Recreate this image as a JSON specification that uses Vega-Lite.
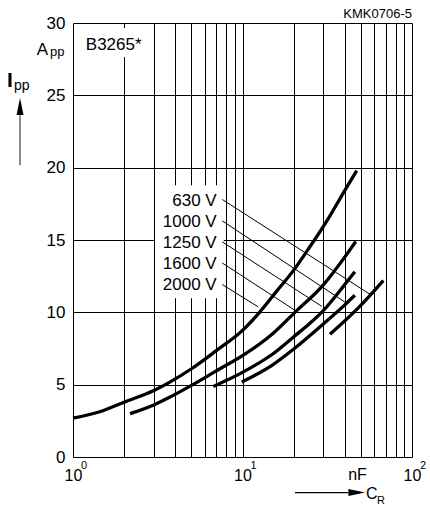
{
  "$schema": "https://vega.github.io/schema/vega-lite/v6.json",
  "width": 339,
  "height": 434,
  "autosize": {"type": "none"},
  "padding": {"left": 73, "top": 23, "right": 18, "bottom": 50},
  "background": "white",
  "config": {"view": {"stroke": null}, "font": "Liberation Sans"},
  "datasets": {
    "curves": [
      {"series": "2000 V", "c": 1, "i": 2.68},
      {"series": "2000 V", "c": 1.5, "i": 3.2},
      {"series": "2000 V", "c": 2, "i": 3.79},
      {"series": "2000 V", "c": 3, "i": 4.6},
      {"series": "2000 V", "c": 3.73, "i": 5.18},
      {"series": "2000 V", "c": 5, "i": 6.1},
      {"series": "2000 V", "c": 7, "i": 7.35},
      {"series": "2000 V", "c": 10, "i": 8.75},
      {"series": "2000 V", "c": 12.6, "i": 10.0},
      {"series": "2000 V", "c": 16, "i": 11.5},
      {"series": "2000 V", "c": 20, "i": 12.9},
      {"series": "2000 V", "c": 23.9, "i": 14.2},
      {"series": "2000 V", "c": 31.4, "i": 16.3},
      {"series": "2000 V", "c": 40, "i": 18.4},
      {"series": "2000 V", "c": 47.2, "i": 19.8},
      {"series": "1600 V", "c": 2.17, "i": 3.0},
      {"series": "1600 V", "c": 3, "i": 3.6},
      {"series": "1600 V", "c": 3.73, "i": 4.14},
      {"series": "1600 V", "c": 5, "i": 4.95},
      {"series": "1600 V", "c": 7, "i": 5.95},
      {"series": "1600 V", "c": 10, "i": 7.0},
      {"series": "1600 V", "c": 15, "i": 8.5},
      {"series": "1600 V", "c": 20.4, "i": 10.0},
      {"series": "1600 V", "c": 30, "i": 11.9},
      {"series": "1600 V", "c": 40, "i": 13.8},
      {"series": "1600 V", "c": 46.6, "i": 14.9},
      {"series": "1250 V", "c": 6.73, "i": 4.88},
      {"series": "1250 V", "c": 10, "i": 5.85},
      {"series": "1250 V", "c": 15, "i": 7.1},
      {"series": "1250 V", "c": 20, "i": 8.3},
      {"series": "1250 V", "c": 25, "i": 9.25},
      {"series": "1250 V", "c": 29.3, "i": 10.0},
      {"series": "1250 V", "c": 40, "i": 11.9},
      {"series": "1250 V", "c": 46, "i": 12.8},
      {"series": "1000 V", "c": 9.9, "i": 5.18},
      {"series": "1000 V", "c": 15, "i": 6.35},
      {"series": "1000 V", "c": 20, "i": 7.45},
      {"series": "1000 V", "c": 30, "i": 9.2},
      {"series": "1000 V", "c": 40, "i": 10.5},
      {"series": "1000 V", "c": 46, "i": 11.18},
      {"series": "630 V", "c": 32.8, "i": 8.48},
      {"series": "630 V", "c": 50, "i": 10.5},
      {"series": "630 V", "c": 67.7, "i": 12.2}
    ],
    "boxes": [
      {"x1": 1.1, "x2": 2.77, "y1": 27.65, "y2": 29.65},
      {"x1": 3.05, "x2": 7.75, "y1": 10.97, "y2": 18.79}
    ],
    "leaders": [
      {"label": "630 V", "x1": 7.6, "y1": 17.8, "x2": 56.5, "y2": 11.25},
      {"label": "1000 V", "x1": 7.6, "y1": 16.32, "x2": 40.2, "y2": 10.71},
      {"label": "1250 V", "x1": 7.6, "y1": 14.87, "x2": 29.3, "y2": 10.42},
      {"label": "1600 V", "x1": 7.6, "y1": 13.41, "x2": 20.4, "y2": 10.14},
      {"label": "2000 V", "x1": 7.6, "y1": 11.92, "x2": 12.4, "y2": 10.37}
    ],
    "vlabels": [
      {"t": "630 V", "x": 7.04, "y": 17.34},
      {"t": "1000 V", "x": 7.04, "y": 15.88},
      {"t": "1250 V", "x": 7.04, "y": 14.43},
      {"t": "1600 V", "x": 7.04, "y": 12.98},
      {"t": "2000 V", "x": 7.04, "y": 11.52}
    ]
  },
  "layer": [
    {
      "data": {"name": "boxes"},
      "mark": {"type": "rect", "color": "white"},
      "encoding": {
        "x": {
          "field": "x1", "type": "quantitative",
          "scale": {"type": "log", "domain": [1, 100], "nice": false},
          "axis": {
            "values": [1, 2, 3, 4, 5, 6, 7, 8, 9, 10, 20, 30, 40, 50, 60, 70, 80, 90, 100],
            "grid": true, "gridColor": "black", "gridOpacity": 1, "gridWidth": 1,
            "domain": false, "ticks": false, "tickSize": 0,
            "labelExpr": "datum.value == 1 || datum.value == 10 || datum.value == 100 ? '10' : ''",
            "labelFontSize": 16, "labelColor": "black", "labelBaseline": "alphabetic",
            "labelPadding": 23, "labelDx": -5, "labelFlush": false, "labelOverlap": false,
            "title": null
          }
        },
        "x2": {"field": "x2"},
        "y": {
          "field": "y1", "type": "quantitative",
          "scale": {"domain": [0, 30], "nice": false, "zero": false},
          "axis": {
            "values": [0, 5, 10, 15, 20, 25, 30],
            "grid": true, "gridColor": "black", "gridOpacity": 1, "gridWidth": 1,
            "domain": false, "ticks": false, "tickSize": 0,
            "labelFontSize": 17, "labelColor": "black", "labelPadding": 8,
            "labelBaseline": "middle", "labelFlush": false, "labelOverlap": false,
            "title": null
          }
        },
        "y2": {"field": "y2"}
      }
    },
    {
      "data": {"name": "curves"},
      "mark": {"type": "line", "color": "black", "strokeWidth": 3.3, "interpolate": "monotone", "strokeCap": "butt"},
      "encoding": {
        "x": {"field": "c", "type": "quantitative"},
        "y": {"field": "i", "type": "quantitative"},
        "detail": {"field": "series"}
      }
    },
    {
      "data": {"name": "leaders"},
      "mark": {"type": "rule", "color": "black", "strokeWidth": 1},
      "encoding": {
        "x": {"field": "x1", "type": "quantitative"},
        "y": {"field": "y1", "type": "quantitative"},
        "x2": {"field": "x2"},
        "y2": {"field": "y2"}
      }
    },
    {
      "data": {"name": "vlabels"},
      "mark": {"type": "text", "align": "right", "baseline": "alphabetic", "fontSize": 17, "color": "black"},
      "encoding": {
        "x": {"field": "x", "type": "quantitative"},
        "y": {"field": "y", "type": "quantitative"},
        "text": {"field": "t"}
      }
    },
    {
      "data": {"values": [
        {"t": "B3265*", "x": 1.19, "y": 28.13, "s": 17},
        {"t": "A", "x": 0.611, "y": 27.79, "s": 17},
        {"t": "pp", "x": 0.732, "y": 27.7, "s": 13},
        {"t": "pp", "x": 0.449, "y": 25.4, "s": 14},
        {"t": "0", "x": 1.115, "y": -0.85, "s": 11},
        {"t": "1", "x": 11.15, "y": -0.85, "s": 11},
        {"t": "2", "x": 111.5, "y": -0.85, "s": 11},
        {"t": "nF", "x": 42, "y": -1.6, "s": 16},
        {"t": "C", "x": 53.5, "y": -2.91, "s": 16},
        {"t": "R", "x": 62.2, "y": -3.22, "s": 11}
      ]},
      "mark": {"type": "text", "align": "left", "baseline": "alphabetic", "color": "black"},
      "encoding": {
        "x": {"field": "x", "type": "quantitative"},
        "y": {"field": "y", "type": "quantitative"},
        "text": {"field": "t"},
        "size": {"field": "s", "type": "quantitative", "scale": null}
      }
    },
    {
      "data": {"values": [{"t": "I", "x": 0.408, "y": 25.55}]},
      "mark": {"type": "text", "align": "left", "baseline": "alphabetic", "fontSize": 21, "fontWeight": "bold", "color": "black"},
      "encoding": {
        "x": {"field": "x", "type": "quantitative"},
        "y": {"field": "y", "type": "quantitative"},
        "text": {"field": "t"}
      }
    },
    {
      "data": {"values": [{"t": "KMK0706-5", "x": 100, "y": 30.35}]},
      "mark": {"type": "text", "align": "right", "baseline": "alphabetic", "fontSize": 13, "color": "black"},
      "encoding": {
        "x": {"field": "x", "type": "quantitative"},
        "y": {"field": "y", "type": "quantitative"},
        "text": {"field": "t"}
      }
    },
    {
      "data": {"values": [{"x1": 0.487, "y1": 20.17, "x2": 0.487, "y2": 23.63}]},
      "mark": {"type": "rule", "color": "#666666", "strokeWidth": 1.5},
      "encoding": {
        "x": {"field": "x1", "type": "quantitative"},
        "y": {"field": "y1", "type": "quantitative"},
        "x2": {"field": "x2"},
        "y2": {"field": "y2"}
      }
    },
    {
      "data": {"values": [{"x": 0.487, "y": 24.22}]},
      "mark": {"type": "point", "shape": "M0,-1L0.41,1L-0.41,1Z", "size": 289, "filled": true, "color": "black", "opacity": 1},
      "encoding": {
        "x": {"field": "x", "type": "quantitative"},
        "y": {"field": "y", "type": "quantitative"}
      }
    },
    {
      "data": {"values": [{"x1": 20.4, "y1": -2.457, "x2": 42.1, "y2": -2.457}]},
      "mark": {"type": "rule", "color": "black", "strokeWidth": 1.3},
      "encoding": {
        "x": {"field": "x1", "type": "quantitative"},
        "y": {"field": "y1", "type": "quantitative"},
        "x2": {"field": "x2"},
        "y2": {"field": "y2"}
      }
    },
    {
      "data": {"values": [{"x": 47.2, "y": -2.457}]},
      "mark": {"type": "point", "shape": "M1,0L-1,-0.41L-1,0.41Z", "size": 279, "filled": true, "color": "black", "opacity": 1},
      "encoding": {
        "x": {"field": "x", "type": "quantitative"},
        "y": {"field": "y", "type": "quantitative"}
      }
    }
  ]
}
